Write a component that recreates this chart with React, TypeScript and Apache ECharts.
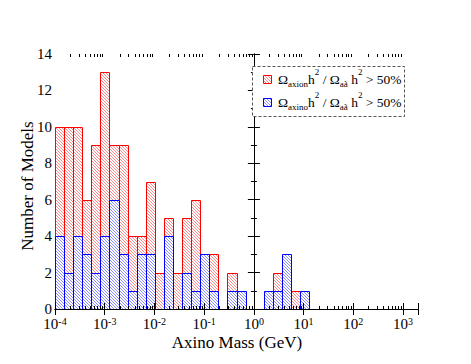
import React, { useEffect, useRef } from "react";
import * as echarts from "echarts";

// ---- data ----
const LOG_MIN = -4; // 1e-4 GeV
const LOG_MAX = Math.log10(2000); // 2e3 GeV
const BIN_COUNT = 40;

// Ω_axion h² / Ω_aã h² > 50%
const axionCounts = [
  10, 10, 10, 6, 9, 13, 9, 9, 4, 4, 7, 2, 5, 2, 5, 6, 3, 3, 0, 2,
  0, 0, 0, 0, 2, 0, 1, 0, 0, 0, 0, 0, 0, 0, 0, 0, 0, 0, 0, 0,
];
// Ω_axino h² / Ω_aã h² > 50%
const axinoCounts = [
  4, 2, 4, 3, 2, 4, 6, 3, 1, 3, 3, 0, 4, 0, 2, 1, 3, 1, 0, 1,
  1, 0, 0, 1, 1, 3, 0, 1, 0, 0, 0, 0, 0, 0, 0, 0, 0, 0, 0, 0,
];
const decades = [-4, -3, -2, -1, 0, 1, 2];
const minorMultipliers = [2, 3, 4, 5, 6, 7, 8, 9];
const Y_MIN = 0;
const Y_MAX = 14;
const Y_STEP = 2;
const xTitle = "Axino Mass (GeV)";
const yTitle = "Number of Models";

const FONT = '"Liberation Serif", "Times New Roman", serif';
const HATCH = 3;
const RED = "#ff0000";
const RED_HATCH = "rgba(255,0,0,0.45)";
const BLUE = "#0000ff";
const BLUE_HATCH = "rgba(0,0,255,0.45)";

function hatch(x0: number, y0: number, x1: number, y1: number, s: number) {
  const segs: number[][] = [];
  const cMin = x0 - y1;
  const cMax = x1 - y0;
  for (let k = Math.ceil(cMin / s); k * s <= cMax; k++) {
    const c = k * s;
    const lo = Math.max(x0, y0 + c);
    const hi = Math.min(x1, y1 + c);
    if (hi - lo > 0.01) segs.push([lo, lo - c, hi, hi - c]);
  }
  return segs;
}

function hatchedBox(x0: number, y0: number, x1: number, y1: number, stroke: string, hatchColor: string, z?: number) {
  const zz = z === undefined ? {} : { z };
  const children: any[] = [
    { type: "rect", ...zz, shape: { x: x0, y: y0, width: x1 - x0, height: y1 - y0 }, style: { fill: "#ffffff" } },
  ];
  hatch(x0, y0, x1, y1, HATCH).forEach((s) =>
    children.push({
      type: "line",
      ...zz,
      shape: { x1: s[0], y1: s[1], x2: s[2], y2: s[3] },
      style: { stroke: hatchColor, lineWidth: 1 },
    })
  );
  children.push({
    type: "rect",
    ...zz,
    shape: { x: x0, y: y0, width: x1 - x0, height: y1 - y0 },
    style: { fill: "none", stroke, lineWidth: 1 },
  });
  return children;
}

function binData(counts: number[]) {
  const w = (LOG_MAX - LOG_MIN) / BIN_COUNT;
  return counts.map((c, i) => [LOG_MIN + i * w, LOG_MIN + (i + 1) * w, c]);
}

const makeBarRender = (stroke: string, hatchColor: string) => (params: any, api: any) => {
  const lo = api.value(0);
  const hi = api.value(1);
  const cnt = api.value(2);
  if (!cnt) return null;
  const a = api.coord([lo, cnt]);
  const b = api.coord([hi, 0]);
  const x0 = Math.round(a[0]) + 0.5;
  const x1 = Math.round(b[0]) + 0.5;
  const y0 = Math.round(a[1]) + 0.5;
  const y1 = Math.round(b[1]) + 0.5;
  return { type: "group", children: hatchedBox(x0, y0, x1, y1, stroke, hatchColor) };
};

const minorTickData: number[][] = [];
decades.forEach((d) => minorMultipliers.forEach((m) => minorTickData.push([d + Math.log10(m)])));

export default function App() {
  const ref = useRef<HTMLDivElement>(null);
  useEffect(() => {
    if (!ref.current) return;
    const chart = echarts.init(ref.current, null, { renderer: "svg" });
    const axisCommon = {
      axisLine: { lineStyle: { color: "#000", width: 1 } },
      splitLine: { show: false },
      z: 10,
    };
    const xAxisBase = {
      type: "value",
      min: LOG_MIN,
      max: LOG_MAX,
      interval: 1,
      ...axisCommon,
      axisTick: { inside: true, length: 6, lineStyle: { color: "#000" } },
    };
    const yAxisBase = {
      type: "value",
      min: Y_MIN,
      max: Y_MAX,
      interval: Y_STEP,
      ...axisCommon,
      axisTick: { inside: true, length: 6, lineStyle: { color: "#000" } },
      minorTick: { show: true, splitNumber: 2, length: 3, lineStyle: { color: "#000" } },
    };
    const legendLine = (label: string) =>
      `{m|Ω}{sb|${label}}{m|h}{sp|2}{m| / Ω}{sb|aã}{m| h}{sp|2}{m| > 50%}`;
    const legendRich = {
      m: { fontSize: 13.5, fontFamily: FONT, lineHeight: 14, fill: "#000" },
      sb: { fontSize: 9, fontFamily: FONT, lineHeight: 9, padding: [10, 0, 0, 0], fill: "#000" },
      sp: { fontSize: 9, fontFamily: FONT, lineHeight: 9, padding: [0, 0, 14, 0], fill: "#000" },
    };
    chart.setOption({
      animation: false,
      backgroundColor: "#ffffff",
      grid: { left: 55, top: 54, width: 363, height: 255, containLabel: false },
      xAxis: [
        {
          ...xAxisBase,
          position: "bottom",
          axisLabel: {
            margin: 7,
            formatter: (v: number) =>
              Math.abs(v - Math.round(v)) > 1e-6 ? "" : `{b|10}{s|${Math.round(v)}}`,
            rich: {
              b: { fontSize: 15, fontFamily: FONT, color: "#000", lineHeight: 15, verticalAlign: "bottom" },
              s: { fontSize: 10, fontFamily: FONT, color: "#000", lineHeight: 10, verticalAlign: "top" },
            },
          },
        },
        { ...xAxisBase, position: "top", axisLabel: { show: false } },
      ],
      yAxis: [
        {
          ...yAxisBase,
          position: "left",
          axisLabel: { fontSize: 15, lineHeight: 11, fontFamily: FONT, color: "#000", margin: 3 },
        },
        { ...yAxisBase, position: "right", axisLabel: { show: false } },
      ],
      series: [
        {
          type: "custom",
          name: "axion",
          xAxisIndex: 0,
          yAxisIndex: 0,
          z: 2,
          renderItem: makeBarRender(RED, RED_HATCH),
          encode: { x: [0, 1], y: 2 },
          data: binData(axionCounts),
        },
        {
          type: "custom",
          name: "axino",
          xAxisIndex: 0,
          yAxisIndex: 0,
          z: 3,
          renderItem: makeBarRender(BLUE, BLUE_HATCH),
          encode: { x: [0, 1], y: 2 },
          data: binData(axinoCounts),
        },
        {
          type: "custom",
          name: "minorTicks",
          xAxisIndex: 0,
          yAxisIndex: 0,
          z: 11,
          silent: true,
          renderItem: (params: any, api: any) => {
            const v = api.value(0);
            const b = api.coord([v, Y_MIN]);
            const t = api.coord([v, Y_MAX]);
            const x = Math.round(b[0]) + 0.5;
            return {
              type: "group",
              children: [
                { type: "line", shape: { x1: x, y1: b[1], x2: x, y2: b[1] - 3 }, style: { stroke: "#000", lineWidth: 1 } },
                { type: "line", shape: { x1: x, y1: t[1], x2: x, y2: t[1] + 3 }, style: { stroke: "#000", lineWidth: 1 } },
              ],
            };
          },
          encode: { x: 0 },
          data: minorTickData,
        },
      ],
      graphic: [
        {
          type: "text",
          x: 237,
          y: 342,
          style: { text: xTitle, font: `17px ${FONT}`, lineHeight: 13, fill: "#000", align: "center", verticalAlign: "middle" },
        },
        {
          type: "text",
          x: 27,
          y: 186,
          rotation: Math.PI / 2,
          style: { text: yTitle, font: `17px ${FONT}`, fill: "#000", align: "center", verticalAlign: "middle" },
        },
        {
          type: "rect",
          z: 20,
          shape: { x: 252.5, y: 66.5, width: 152, height: 50 },
          style: { fill: "#ffffff", stroke: "#555", lineWidth: 1, lineDash: [3, 2] },
        },
        {
          type: "group",
          z: 21,
          children: hatchedBox(263.5, 75.5, 271.5, 83.5, RED, RED_HATCH, 21),
        },
        {
          type: "group",
          z: 21,
          children: hatchedBox(263.5, 98.5, 271.5, 106.5, BLUE, BLUE_HATCH, 21),
        },
        {
          type: "text",
          z: 22,
          x: 278,
          y: 79,
          style: { text: legendLine("axion"), rich: legendRich, align: "left", verticalAlign: "middle", fill: "#000" },
        },
        {
          type: "text",
          z: 22,
          x: 278,
          y: 102,
          style: { text: legendLine("axino"), rich: legendRich, align: "left", verticalAlign: "middle", fill: "#000" },
        },
      ],
    });
    return () => chart.dispose();
  }, []);
  return <div ref={ref} style={{ width: 471, height: 364, margin: -8 }} />;
}
